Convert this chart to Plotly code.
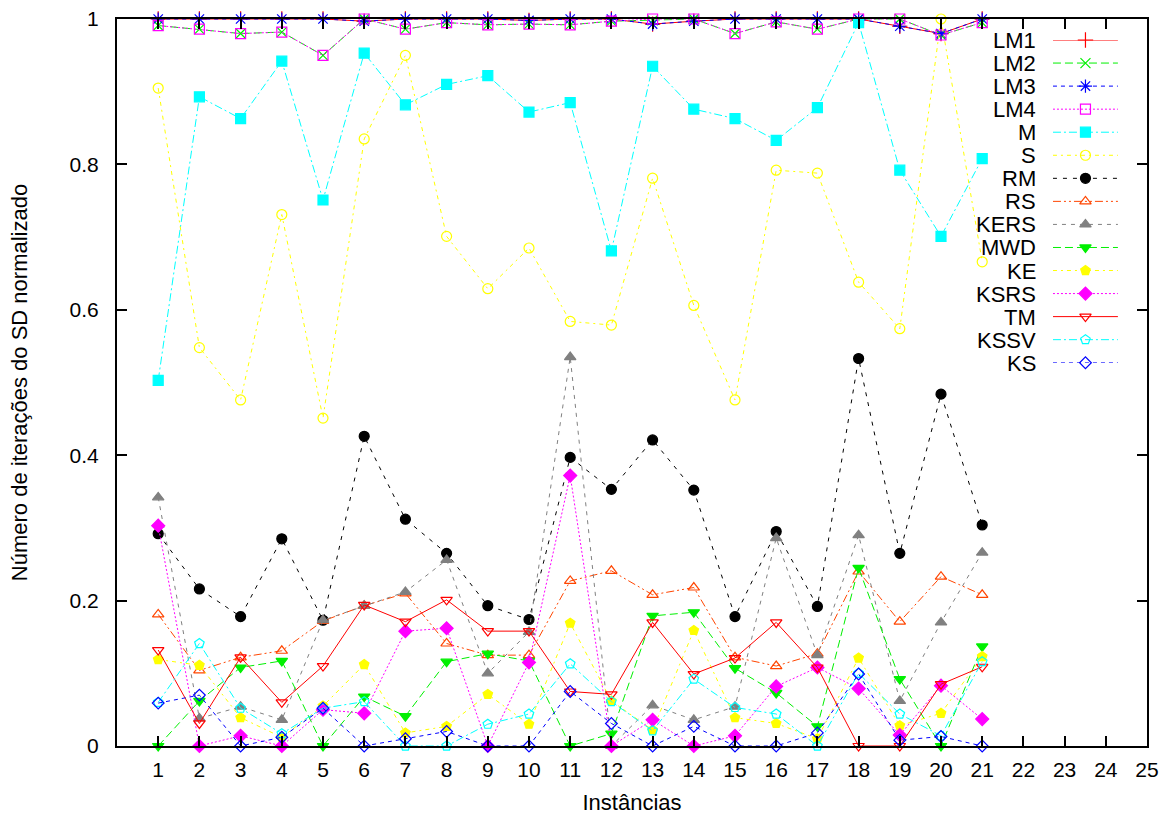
import plotly.graph_objects as go

# Instâncias 1..21 (axis extends to 25)
instancias = list(range(1, 22))
x_ticks = list(range(1, 26))

LM1 = [1.0, 1.0, 1.0, 1.0, 1.0, 0.997, 1.0, 1.0, 1.0, 0.998, 1.0, 1.0, 0.993, 0.997, 1.0, 1.0, 1.0, 1.0, 0.990, 0.980, 1.0]
LM2 = [0.991, 0.986, 0.980, 0.982, 0.950, 1.0, 0.986, 0.995, 0.992, 0.993, 0.992, 0.997, 0.998, 1.0, 0.980, 0.996, 0.986, 1.0, 1.0, 0.978, 0.995]
LM3 = [1.0, 1.0, 1.0, 1.0, 1.0, 0.997, 1.0, 1.0, 1.0, 0.998, 1.0, 1.0, 0.993, 0.997, 1.0, 1.0, 1.0, 1.0, 0.990, 0.980, 1.0]
LM4 = [0.991, 0.986, 0.980, 0.982, 0.950, 1.0, 0.986, 0.995, 0.992, 0.993, 0.992, 0.997, 1.0, 1.0, 0.980, 0.996, 0.986, 1.0, 1.0, 0.978, 0.995]
M = [0.503, 0.893, 0.863, 0.942, 0.751, 0.953, 0.882, 0.910, 0.922, 0.872, 0.885, 0.681, 0.935, 0.876, 0.863, 0.833, 0.878, 0.995, 0.792, 0.701, 0.808]
S = [0.905, 0.548, 0.476, 0.731, 0.451, 0.835, 0.950, 0.701, 0.629, 0.685, 0.584, 0.579, 0.781, 0.606, 0.476, 0.792, 0.788, 0.638, 0.574, 1.0, 0.666]
RM = [0.292, 0.216, 0.178, 0.285, 0.173, 0.426, 0.312, 0.265, 0.193, 0.174, 0.397, 0.353, 0.421, 0.352, 0.178, 0.295, 0.192, 0.533, 0.265, 0.484, 0.304]
RS = [0.181, 0.104, 0.122, 0.131, 0.172, 0.193, 0.210, 0.141, 0.125, 0.125, 0.227, 0.241, 0.208, 0.218, 0.122, 0.110, 0.127, 0.240, 0.171, 0.233, 0.208]
KERS = [0.342, 0.038, 0.054, 0.036, 0.173, 0.193, 0.212, 0.256, 0.100, 0.157, 0.535, 0.0, 0.056, 0.036, 0.054, 0.286, 0.125, 0.290, 0.062, 0.170, 0.266]
MWD = [0.0, 0.062, 0.108, 0.117, 0.0, 0.068, 0.041, 0.116, 0.127, 0.117, 0.0, 0.017, 0.179, 0.184, 0.107, 0.073, 0.027, 0.245, 0.092, 0.0, 0.137]
KE = [0.119, 0.111, 0.039, 0.012, 0.055, 0.112, 0.018, 0.027, 0.071, 0.030, 0.169, 0.062, 0.022, 0.159, 0.039, 0.031, 0.010, 0.121, 0.028, 0.045, 0.123]
KSRS = [0.303, 0.0, 0.014, 0.0, 0.050, 0.045, 0.158, 0.162, 0.0, 0.115, 0.372, 0.0, 0.036, 0.0, 0.014, 0.082, 0.108, 0.079, 0.015, 0.083, 0.037]
TM = [0.132, 0.031, 0.122, 0.060, 0.110, 0.194, 0.171, 0.201, 0.158, 0.158, 0.075, 0.071, 0.170, 0.099, 0.121, 0.170, 0.108, 0.0, 0.0, 0.085, 0.109]
KSSV = [0.060, 0.141, 0.052, 0.017, 0.052, 0.061, 0.0, 0.0, 0.030, 0.044, 0.113, 0.061, 0.021, 0.092, 0.053, 0.044, 0.0, 0.100, 0.044, 0.014, 0.116]
KS = [0.059, 0.070, 0.0, 0.012, 0.052, 0.0, 0.010, 0.020, 0.0, 0.0, 0.075, 0.031, 0.0, 0.027, 0.0, 0.0, 0.018, 0.099, 0.008, 0.013, 0.0]

series_names = ["LM1", "LM2", "LM3", "LM4", "M", "S", "RM", "RS", "KERS", "MWD", "KE", "KSRS", "TM", "KSSV", "KS"]
series_values = [LM1, LM2, LM3, LM4, M, S, RM, RS, KERS, MWD, KE, KSRS, TM, KSSV, KS]

# (color, dash, symbol, marker size) per series
styles = [
    ("#ff0000", "solid", "cross-thin-open", 11),
    ("#00f000", "8px,4px", "x-thin-open", 10),
    ("#0000ff", "4px,4px", "asterisk-open", 11),
    ("#ff00ff", "2px,2px", "square-open", 10),
    ("#00ffff", "8px,3px,2px,3px", "square", 10),
    ("#ffff00", "4px,4px,2px,4px", "circle-open", 10),
    ("#000000", "4px,6px", "circle", 10),
    ("#ff4500", "8px,3px,2px,3px,2px,3px", "triangle-up-open", 10),
    ("#808080", "4px,5px", "triangle-up", 10),
    ("#00f000", "8px,4px", "triangle-down", 10),
    ("#ffff00", "4px,4px,2px,4px", "pentagon", 10),
    ("#ff00ff", "2px,2px", "diamond", 10),
    ("#ff0000", "solid", "triangle-down-open", 10),
    ("#00ffff", "8px,3px,2px,3px", "pentagon-open", 10),
    ("#0000ff", "4px,4px", "diamond-open", 9),
]

FONT = "Liberation Sans, Arial, Helvetica, sans-serif"

fig = go.Figure()

for name, vals, (color, dash, symbol, size) in zip(series_names, series_values, styles):
    fig.add_trace(go.Scatter(
        x=instancias, y=vals, name=name, mode="lines+markers",
        line=dict(color=color, width=1, dash=dash),
        marker=dict(symbol=symbol, size=size, color=color,
                    line=dict(color=color, width=1.2)),
        cliponaxis=False, showlegend=False,
    ))

# Key: label on the left, line sample with marker on the right
for i, (name, (color, dash, symbol, size)) in enumerate(zip(series_names, styles)):
    fig.add_trace(go.Scatter(
        x=[0, 0.5, 1], y=[i, i, i], mode="lines+markers",
        line=dict(color=color, width=1, dash=dash),
        marker=dict(symbol=symbol, size=size, color=color, opacity=[0, 1, 0],
                    line=dict(color=color, width=1.2)),
        xaxis="x2", yaxis="y2", showlegend=False, hoverinfo="skip",
        cliponaxis=False,
    ))
    fig.add_annotation(
        text=name, x=0.8942, xref="paper", y=i, yref="y2",
        xanchor="right", yanchor="middle", showarrow=False,
        height=22, valign="middle",
        font=dict(family=FONT, size=22, color="black"),
    )

axis_common = dict(
    showline=True, linecolor="black", linewidth=2, mirror="allticks",
    ticks="inside", ticklen=10, tickwidth=1.5, tickcolor="black",
    showgrid=False, zeroline=False, automargin=False,
    tickfont=dict(family=FONT, size=21, color="black"),
)

fig.update_layout(
    width=1173, height=819,
    margin=dict(l=117, r=26, t=19, b=73),
    paper_bgcolor="white", plot_bgcolor="white",
    font=dict(family=FONT, size=21, color="black"),
    xaxis=dict(range=[0, 25], tickvals=x_ticks, ticktext=[str(v) for v in x_ticks],
               ticklabelstandoff=4,
               title=dict(text="Instâncias", font=dict(family=FONT, size=22), standoff=14),
               **axis_common),
    yaxis=dict(range=[0, 1], tickvals=[0, 0.2, 0.4, 0.6, 0.8, 1],
               ticktext=["0", "0.2", "0.4", "0.6", "0.8", "1"],
               ticklabelstandoff=12,
               title=dict(text="Número de iterações do SD normalizado",
                          font=dict(family=FONT, size=22), standoff=36),
               **axis_common),
    xaxis2=dict(domain=[0.9087, 0.9718], range=[0, 1], visible=False,
                anchor="y2", fixedrange=True),
    yaxis2=dict(domain=[0.5272, 0.9711], range=[14, 0], visible=False,
                anchor="x2", fixedrange=True),
)

fig.write_html("out.html")
